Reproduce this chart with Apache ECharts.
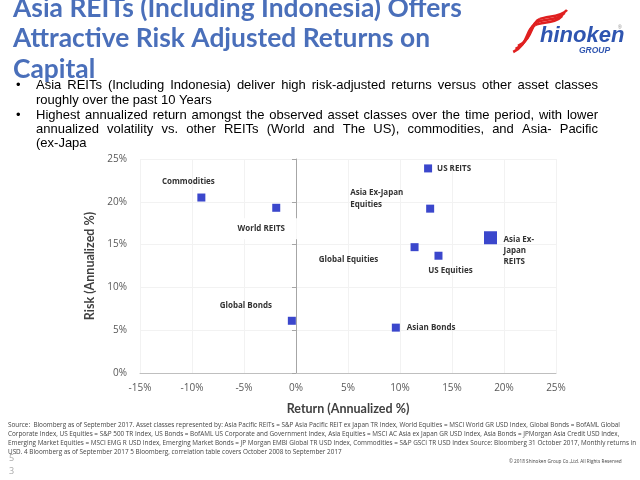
<!DOCTYPE html>
<html><head><meta charset="utf-8">
<script src="https://cdn.jsdelivr.net/npm/echarts@6/dist/echarts.min.js"></script>
<style>html,body{margin:0;padding:0;background:#fff}#c{width:640px;height:480px}</style>
</head><body><div id="c"></div>
<script>
// ---- data ----
const names = ['Commodities','World REITS','Global Bonds','Asian Bonds','Global Equities','US REITS','Asia Ex-Japan Equities','US Equities','Asia Ex-Japan REITS'];
const returns = [-9.1, -1.9, -0.4, 9.6, 11.4, 12.7, 12.9, 13.7, 18.7];
const risks = [20.5, 19.3, 6.1, 5.3, 14.7, 23.9, 19.2, 13.7, 15.8];
const xRange = [-15, 25];
const yRange = [0, 25];
const tickStep = 5;
const titleLines = ['Asia REITs (Including Indonesia) Offers','Attractive Risk Adjusted Returns on','Capital'];
const bulletLines = [
  'Asia REITs (Including Indonesia) deliver high risk-adjusted returns versus other asset classes',
  'roughly over the past 10 Years',
  'Highest annualized return amongst the observed asset classes over the time period, with lower',
  'annualized volatility vs. other REITs (World and The US), commodities, and Asia- Pacific',
  '(ex-Japa'
];
const footLines = [
  'Source:  Bloomberg as of September 2017. Asset classes represented by: Asia Pacific REITs = S&P Asia Pacific REIT ex Japan TR Index, World Equities = MSCI World GR USD Index, Global Bonds = BofAML Global',
  'Corporate Index, US Equities = S&P 500 TR Index, US Bonds = BofAML US Corporate and Government Index, Asia Equities = MSCI AC Asia ex Japan GR USD Index, Asia Bonds = JPMorgan Asia Credit USD Index,',
  'Emerging Market Equities = MSCI EMG R USD Index, Emerging Market Bonds = JP Morgan EMBI Global TR USD Index, Commodities = S&P GSCI TR USD Index Source: Bloomberg 31 October 2017, Monthly returns in',
  'USD. 4 Bloomberg as of September 2017 5 Bloomberg, correlation table covers October 2008 to September 2017'
];
const copyright = '\u00A9 2018 Shinoken Group Co.,Ltd. All Rights Reserved';

// ---- label styling (presentation only) ----
const displayText = {'Asia Ex-Japan Equities':'Asia Ex-Japan\nEquities','Asia Ex-Japan REITS':'Asia Ex-\nJapan\nREITS'};
const labelStyle = {
  'Commodities': {position:'inside', offset:[-13,-16]},
  'World REITS': {position:'inside', offset:[-10,21], backgroundColor:'#fff', padding:[7,12,6,2]},
  'Global Bonds': {position:'inside', offset:[-46,-15]},
  'Asian Bonds': {position:'right', distance:7},
  'Global Equities': {position:'inside', offset:[-66,13]},
  'US REITS': {position:'right', distance:5},
  'Asia Ex-Japan Equities': {position:'inside', align:'left', offset:[-80,-10], lineHeight:12},
  'US Equities': {position:'inside', offset:[12,15]},
  'Asia Ex-Japan REITS': {position:'inside', align:'left', offset:[13,13], lineHeight:11}
};

const ctx = document.createElement('canvas').getContext('2d');
function tw(text, font){ ctx.font = font; return ctx.measureText(text).width; }

const graphics = [];
// Title
const titleFamily = 'Lato';
const tfs = 24 * 449 / tw(titleLines[0], 'bold 24px ' + titleFamily);
const titleY = [8, 38.5, 69];
titleLines.forEach((t,i)=>graphics.push({type:'text', x:13, y:titleY[i], z:1, style:{text:t, font:'bold '+tfs.toFixed(2)+'px '+titleFamily, fill:'#4a6fba', verticalAlign:'middle'}}));

// Logo (red swoosh stripes)
[0,4,8].forEach(d=>{
  const dx = -d*0.6, dy = d*0.75;
  graphics.push({type:'bezierCurve', z:2, shape:{x1:567+dx, y1:10+dy, cpx1:561+dx, cpy1:17+dy, cpx2:548+dx, cpy2:16+dy, x2:540+dx, y2:19+dy}, style:{stroke:'#e02020', lineWidth:2.6, fill:null}});
  graphics.push({type:'bezierCurve', z:2, shape:{x1:540+dx, y1:19+dy, cpx1:530+dx, cpy1:23+dy, cpx2:534+dx, cpy2:38+dy, x2:518+dx, y2:46+dy}, style:{stroke:'#e02020', lineWidth:2.6, fill:null}});
});
graphics.push({type:'text', x:540, y:36, z:3, style:{text:'hinoken', font:'italic bold 22px "Liberation Sans Narrow", "Liberation Sans"', fill:'#2f55b0', verticalAlign:'middle'}});
graphics.push({type:'text', x:579, y:51, z:3, style:{text:'GROUP', font:'italic bold 8.5px "Liberation Sans"', fill:'#2f55b0', verticalAlign:'middle'}});
graphics.push({type:'text', x:618, y:28, z:3, style:{text:'\u00AE', font:'5px "Liberation Sans"', fill:'#888', verticalAlign:'middle'}});

// Bullets
const bFont = '13px "Liberation Sans"';
const bLeft = 36, bRight = 598;
const bScale = Math.min(1, (bRight - bLeft) / tw(bulletLines[0], bFont));
const bY = [85, 100, 115, 129, 143];
const justify = [true, false, true, true, false];
bulletLines.forEach((line,i)=>{
  if (justify[i]) {
    const words = line.split(' ');
    const ws = words.map(w=>tw(w,bFont)*bScale);
    const total = ws.reduce((a,b)=>a+b,0);
    const gap = (bRight - bLeft - total)/(words.length-1);
    let x = bLeft;
    words.forEach((w,j)=>{ graphics.push({type:'text', x:x, y:bY[i], scaleX:bScale, z:1, style:{text:w, font:bFont, fill:'#000', verticalAlign:'middle'}}); x += ws[j]+gap; });
  } else {
    graphics.push({type:'text', x:bLeft, y:bY[i], scaleX:bScale, z:1, style:{text:line, font:bFont, fill:'#000', verticalAlign:'middle'}});
  }
});
[85,115].forEach(y=>graphics.push({type:'text', x:16, y:y, z:1, style:{text:'\u2022', font:bFont, fill:'#000', verticalAlign:'middle'}}));

// Footnotes
const fFam = '"Open Sans"';
const ffs = 6 * 612 / tw(footLines[0], '6px '+fFam);
const fY = [425, 434, 443, 452];
footLines.forEach((t,i)=>graphics.push({type:'text', x:8, y:fY[i], style:{text:t, font:ffs.toFixed(2)+'px '+fFam, fill:'#444', verticalAlign:'middle'}}));
const cfs = 7 * 113 / tw(copyright, '7px '+fFam);
graphics.push({type:'text', x:509, y:462, style:{text:copyright, font:cfs.toFixed(2)+'px '+fFam, fill:'#444', verticalAlign:'middle'}});
graphics.push({type:'text', x:9, y:458, style:{text:'5', font:'9px '+fFam, fill:'#aaa', verticalAlign:'middle'}});
graphics.push({type:'text', x:9, y:471, style:{text:'3', font:'9px '+fFam, fill:'#aaa', verticalAlign:'middle'}});

const data = names.map((n,i)=>{
  const ls = labelStyle[n] || {};
  return {name:n, value:[returns[i], risks[i]], label:Object.assign({}, ls)};
});

const chart = echarts.init(document.getElementById('c'), null, {renderer:'canvas'});
chart.setOption({
  animation:false,
  backgroundColor:'#fff',
  grid:{left:140, right:84, top:159, bottom:107},
  xAxis:{type:'value', min:xRange[0], max:xRange[1], interval:tickStep,
    name:'Return (Annualized %)', nameLocation:'middle', nameGap:29,
    nameTextStyle:{fontFamily:'Lato', fontWeight:'bold', fontSize:12.5, color:'#404040'},
    axisLine:{show:true, onZero:false, lineStyle:{color:'#bfbfbf', width:1}},
    axisTick:{show:false},
    axisLabel:{formatter:v=>v+'%', color:'#595959', fontFamily:'Open Sans', fontSize:10, margin:10},
    splitLine:{show:true, lineStyle:{color:'#f2f2f2'}}
  },
  yAxis:[{type:'value', min:yRange[0], max:yRange[1], interval:tickStep,
    name:'Risk (Annualized %)', nameLocation:'middle', nameGap:37,
    nameTextStyle:{fontFamily:'Lato', fontWeight:'bold', fontSize:12.5, color:'#404040'},
    axisLine:{show:false, onZero:false}, axisTick:{show:false},
    axisLabel:{formatter:v=>v+'%', color:'#595959', fontFamily:'Open Sans', fontSize:10, margin:13},
    splitLine:{show:true, lineStyle:{color:'#f2f2f2'}}
  },{type:'value', min:yRange[0], max:yRange[1], interval:tickStep, position:'left',
    axisLine:{show:true, onZero:true, lineStyle:{color:'#a6a6a6', width:1}},
    axisTick:{show:true, length:4, lineStyle:{color:'#a6a6a6'}},
    axisLabel:{show:false}, splitLine:{show:false}
  }],
  series:[{type:'scatter', data:data, symbol:'rect',
    symbolSize:(v,p)=>p.name==='Asia Ex-Japan REITS'?13:8,
    itemStyle:{color:'#3b47cc', opacity:1},
    label:{show:true, formatter:p=>displayText[p.name]||p.name, fontFamily:'Open Sans', fontWeight:'bold', fontSize:8, color:'#333'},
    z:5
  }],
  graphic:graphics
});
</script></body></html>
